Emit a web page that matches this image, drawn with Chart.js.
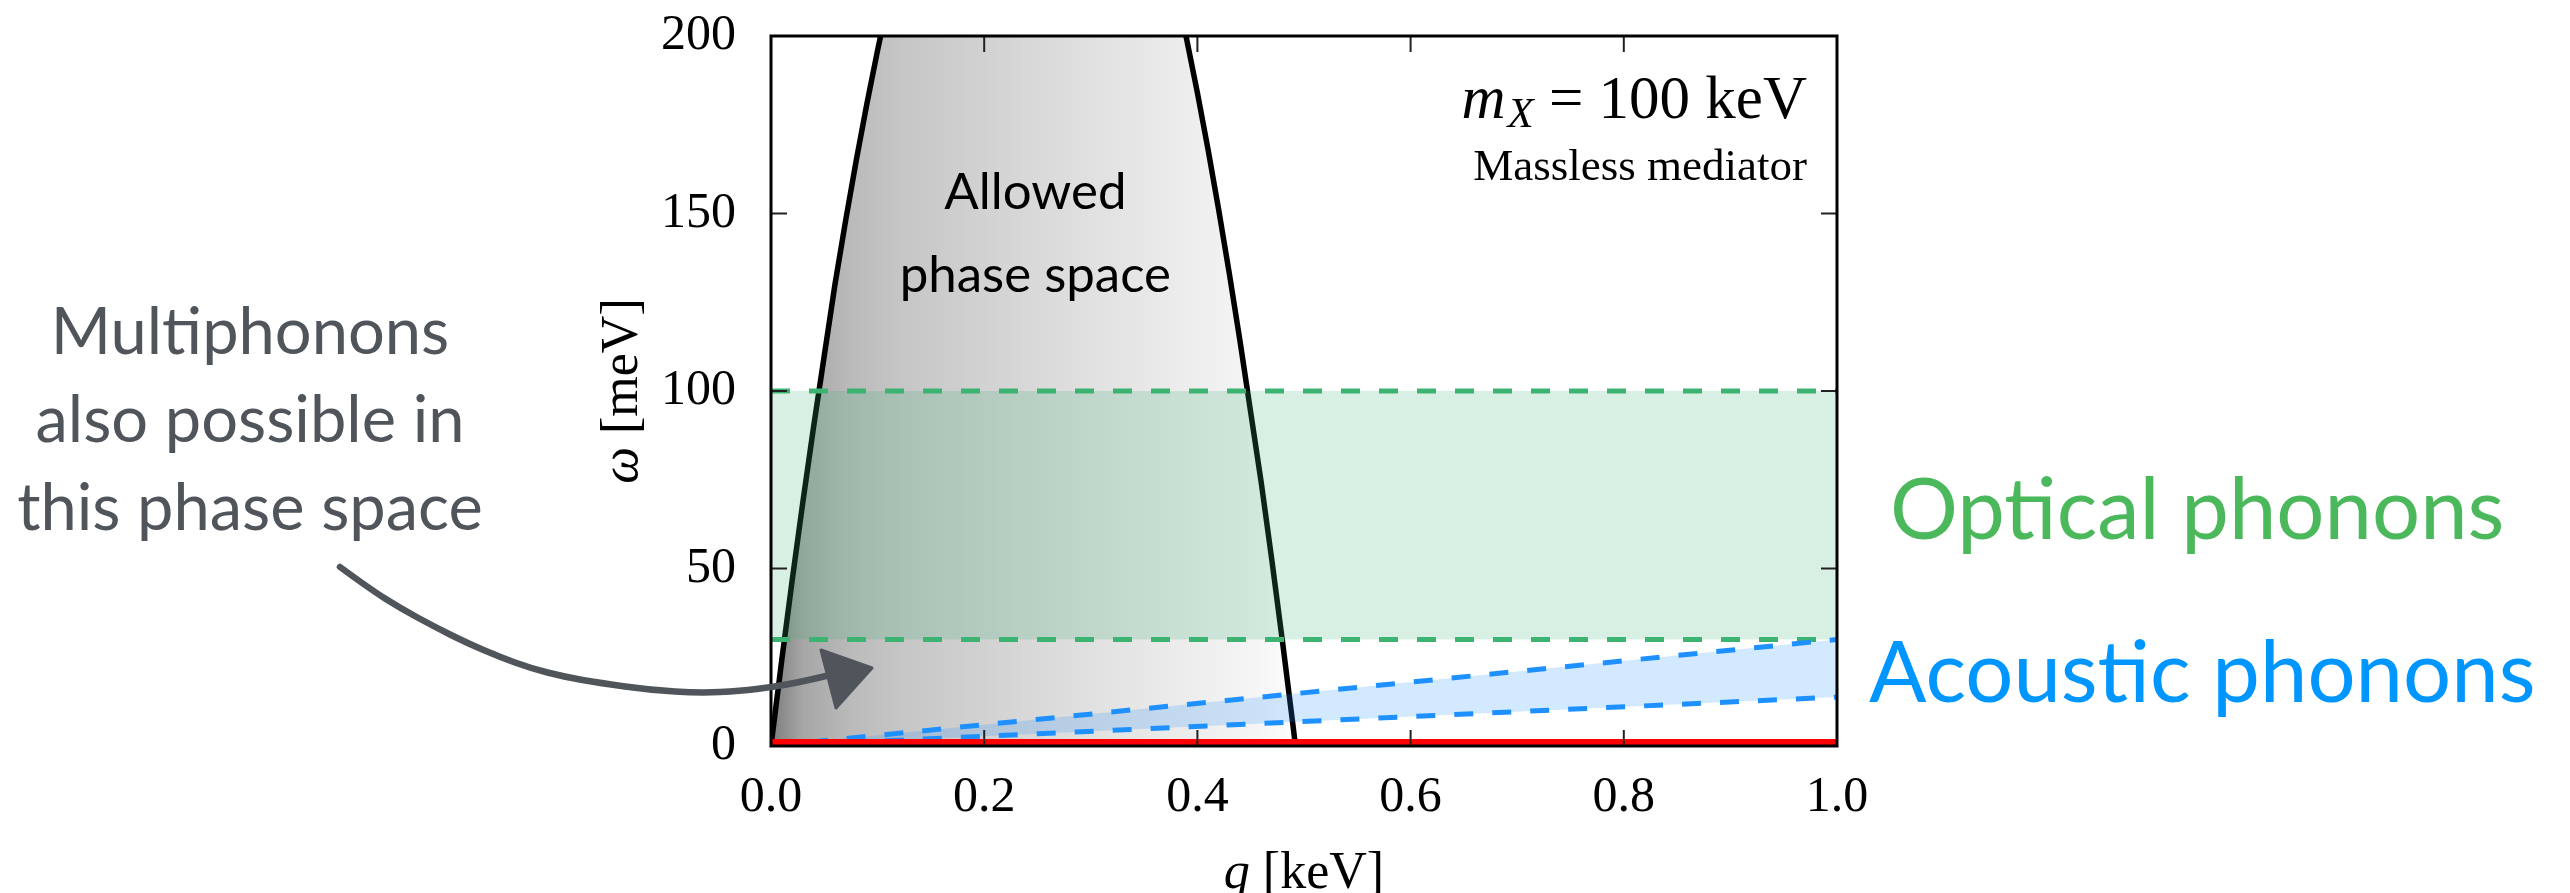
<!DOCTYPE html>
<html>
<head>
<meta charset="utf-8">
<script src="https://cdn.jsdelivr.net/npm/chart.js@4.4.1/dist/chart.umd.min.js"></script>
<style>
  html, body { margin: 0; padding: 0; background: #fff; overflow: hidden; }
  #wrap { width: 2570px; height: 893px; }
</style>
</head>
<body>
<div id="wrap"><canvas id="c" width="2570" height="893"></canvas></div>
<script>
// allowed kinematic region (boundary), q in keV, omega in meV
const qAllowed = [0, 0.01, 0.02, 0.03, 0.04, 0.05, 0.06, 0.07, 0.08, 0.09,
                  0.10, 0.11, 0.12, 0.15, 0.20, 0.25, 0.30, 0.35, 0.38, 0.39,
                  0.40, 0.41, 0.42, 0.43, 0.44, 0.45, 0.46, 0.47, 0.48, 0.49, 0.492];
const wAllowed = [0, 24, 47, 69, 90, 110, 130, 148, 165, 181,
                  196, 210, 223, 256, 292, 302, 288, 248, 213, 199,
                  184, 168, 151, 133, 114, 94, 74, 52, 29, 5, 0];

// phonon bands
const qBand = [0, 1];
const wOpticalLow = [30, 30];
const wOpticalHigh = [100, 100];
const wAcousticUpper = [0, 30];
const wAcousticLower = [0, 13.8];
const wZero = [0, 0];

const xTicks = [0, 0.2, 0.4, 0.6, 0.8, 1.0];
const yTicks = [0, 50, 100, 150, 200];

const pts = (xs, ys) => xs.map((x, i) => ({ x: x, y: ys[i] }));

const SERIF = '"Liberation Serif", "DejaVu Serif", serif';
const SANS = 'Lato, "Noto Sans", sans-serif';

function grayFill(c) {
  const chart = c.chart;
  if (!chart.chartArea) return '#cccccc';
  const x = chart.scales.x;
  const g = chart.ctx.createLinearGradient(x.getPixelForValue(0), 0, x.getPixelForValue(0.492), 0);
  g.addColorStop(0, '#7c7c7c');
  g.addColorStop(0.06, '#a6a6a6');
  g.addColorStop(0.15, '#bababa');
  g.addColorStop(0.25, '#c6c6c6');
  g.addColorStop(0.5, '#d9d9d9');
  g.addColorStop(0.75, '#eaeaea');
  g.addColorStop(0.92, '#f5f5f5');
  g.addColorStop(1, '#fdfdfd');
  return g;
}

// inward ticks on all four sides + frame
const framePlugin = {
  id: 'frame',
  afterDatasetsDraw(chart) {
    const { ctx, chartArea: a, scales: { x, y } } = chart;
    ctx.save();
    ctx.strokeStyle = '#222';
    ctx.lineWidth = 2;
    ctx.beginPath();
    x.ticks.forEach(t => {
      const px = x.getPixelForValue(t.value);
      ctx.moveTo(px, a.bottom); ctx.lineTo(px, a.bottom - 16);
      ctx.moveTo(px, a.top); ctx.lineTo(px, a.top + 16);
    });
    y.ticks.forEach(t => {
      const py = y.getPixelForValue(t.value);
      ctx.moveTo(a.left, py); ctx.lineTo(a.left + 16, py);
      ctx.moveTo(a.right, py); ctx.lineTo(a.right - 16, py);
    });
    ctx.stroke();
    ctx.lineWidth = 3;
    ctx.strokeStyle = '#000';
    ctx.strokeRect(a.left, a.top, a.width, a.height);
    ctx.restore();
  }
};

// axis titles, labels and the hand drawn arrow
const notesPlugin = {
  id: 'notes',
  afterDraw(chart) {
    const { ctx, chartArea: a, scales: { x, y } } = chart;
    ctx.save();

    // x title
    ctx.fillStyle = '#000';
    ctx.textBaseline = 'alphabetic';
    ctx.font = 'italic 52px ' + SERIF;
    const wq = ctx.measureText('q').width;
    ctx.font = '52px ' + SERIF;
    const wk = ctx.measureText(' [keV]').width;
    let sx = (a.left + a.right) / 2 - (wq + wk) / 2;
    ctx.textAlign = 'left';
    ctx.font = 'italic 52px ' + SERIF;
    ctx.fillText('q', sx, 888);
    ctx.font = '52px ' + SERIF;
    ctx.fillText(' [keV]', sx + wq, 888);

    // y title
    ctx.save();
    ctx.translate(637, (a.top + a.bottom) / 2);
    ctx.rotate(-Math.PI / 2);
    ctx.font = 'italic 52px ' + SERIF;
    const ww = ctx.measureText('ω').width;
    ctx.font = '52px ' + SERIF;
    const wm = ctx.measureText(' [meV]').width;
    sx = -(ww + wm) / 2;
    ctx.font = 'italic 52px ' + SERIF;
    ctx.fillText('ω', sx, 0);
    ctx.font = '52px ' + SERIF;
    ctx.fillText(' [meV]', sx + ww, 0);
    ctx.restore();

    // m_X = 100 keV
    const rx = 1807;
    ctx.font = '61px ' + SERIF;
    const wRest = ctx.measureText(' = 100 keV').width;
    ctx.font = 'italic 43px ' + SERIF;
    const wX = ctx.measureText('X').width;
    ctx.font = 'italic 61px ' + SERIF;
    const wM = ctx.measureText('m').width;
    sx = rx - wRest - wX - wM - 2;
    ctx.fillText('m', sx, 118);
    ctx.font = 'italic 43px ' + SERIF;
    ctx.fillText('X', sx + wM + 2, 127);
    ctx.font = '61px ' + SERIF;
    ctx.fillText(' = 100 keV', sx + wM + 2 + wX, 118);
    ctx.textAlign = 'right';
    ctx.font = '45px ' + SERIF;
    ctx.fillText('Massless mediator', rx, 180);

    // allowed phase space
    ctx.textAlign = 'center';
    ctx.font = '51px ' + SANS;
    ctx.fillStyle = '#000';
    const cx = x.getPixelForValue(0.248);
    ctx.fillText('Allowed', cx, y.getPixelForValue(151.3));
    ctx.fillText('phase space', cx, y.getPixelForValue(127.9));

    // multiphonons note
    ctx.fillStyle = '#50555c';
    ctx.font = '65px ' + SANS;
    ctx.fillText('Multiphonons', 250, 354);
    ctx.fillText('also possible in', 250, 442);
    ctx.fillText('this phase space', 250, 530);

    // band labels
    ctx.textAlign = 'left';
    ctx.font = '85px ' + SANS;
    ctx.fillStyle = '#4cb85c';
    ctx.fillText('Optical phonons', 1890, 539);
    ctx.fillStyle = '#0096ff';
    ctx.fillText('Acoustic phonons', 1869, 702);

    // arrow
    const path = [[340, 567], [370, 589], [400, 608], [435, 627], [467, 643], [500, 657],
                  [530, 668], [565, 677], [600, 683], [650, 690], [700, 693], [740, 691],
                  [773, 687], [800, 682], [826, 676]];
    ctx.strokeStyle = '#50555c';
    ctx.fillStyle = '#50555c';
    ctx.lineWidth = 6.5;
    ctx.lineCap = 'round';
    ctx.lineJoin = 'round';
    ctx.beginPath();
    ctx.moveTo(path[0][0], path[0][1]);
    for (let i = 1; i < path.length - 1; i++) {
      const mx = (path[i][0] + path[i + 1][0]) / 2;
      const my = (path[i][1] + path[i + 1][1]) / 2;
      ctx.quadraticCurveTo(path[i][0], path[i][1], mx, my);
    }
    ctx.lineTo(path[path.length - 1][0], path[path.length - 1][1]);
    ctx.stroke();
    ctx.beginPath();
    ctx.moveTo(821, 650);
    ctx.lineTo(872, 668);
    ctx.lineTo(836, 708);
    ctx.closePath();
    ctx.lineWidth = 3;
    ctx.fill();
    ctx.stroke();

    ctx.restore();
  }
};

const dashed = (color, data, extra) => Object.assign({
  data: data,
  borderColor: color,
  borderWidth: 5,
  borderDash: [19, 19],
  pointRadius: 0,
  fill: false,
  clip: 0
}, extra || {});

new Chart(document.getElementById('c'), {
  type: 'line',
  data: {
    datasets: [
      { data: pts(qBand, wZero), borderColor: '#ff0000', borderWidth: 14, pointRadius: 0, fill: false, clip: 0, order: 0 },
      dashed('#1e90ff', pts(qBand, wAcousticUpper), { fill: '+1', backgroundColor: 'rgba(30,144,255,0.2)', order: 1 }),
      dashed('#1e90ff', pts(qBand, wAcousticLower), { order: 1 }),
      dashed('#3cb371', pts(qBand, wOpticalLow), { order: 2 }),
      dashed('#3cb371', pts(qBand, wOpticalHigh), { fill: { value: 30 }, backgroundColor: 'rgba(60,179,113,0.2)', order: 2 }),
      { data: pts(qAllowed, wAllowed), borderColor: '#000', borderWidth: 5.5, pointRadius: 0,
        fill: 'origin', backgroundColor: grayFill, clip: 0, order: 3 }
    ]
  },
  options: {
    responsive: false,
    devicePixelRatio: 1,
    animation: false,
    layout: { padding: { left: 589, right: 733, top: 36, bottom: 0 } },
    plugins: { legend: { display: false }, tooltip: { enabled: false } },
    elements: { line: { tension: 0 } },
    scales: {
      x: {
        type: 'linear', min: 0, max: 1,
        afterFit(s) { s.height = 147; },
        afterBuildTicks(s) { s.ticks = xTicks.map(v => ({ value: v })); },
        grid: { display: false, drawTicks: true, tickLength: 22 },
        border: { display: false },
        ticks: { padding: 0, color: '#000', font: { family: SERIF, size: 50 },
                 callback: v => v.toFixed(1) }
      },
      y: {
        type: 'linear', min: 0, max: 200,
        afterFit(s) { s.width = 182; },
        afterBuildTicks(s) { s.ticks = yTicks.map(v => ({ value: v })); },
        grid: { display: false, drawTicks: true, tickLength: 35 },
        border: { display: false },
        ticks: { padding: 0, color: '#000', font: { family: SERIF, size: 50 },
                 callback: v => String(v) }
      }
    }
  },
  plugins: [framePlugin, notesPlugin]
});
</script>
</body>
</html>
